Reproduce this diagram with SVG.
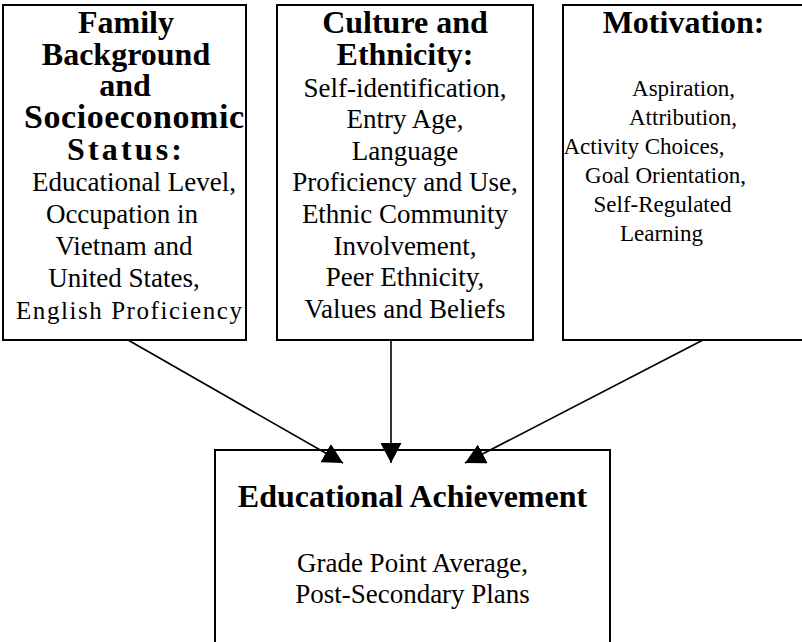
<svg xmlns="http://www.w3.org/2000/svg" width="802" height="642" viewBox="0 0 802 642">
  <style>
    .box { fill: #ffffff; stroke: #000000; stroke-width: 2; }
    .head { font-family: "Liberation Serif", "Times New Roman", serif; font-weight: bold; font-size: 32px; fill: #000000; text-anchor: middle; }
    .body { font-family: "Liberation Serif", "Times New Roman", serif; font-size: 27px; fill: #000000; text-anchor: middle; }
    .small { font-size: 23px; }
    .link { stroke: #000000; stroke-width: 1.6; fill: none; marker-end: url(#arrow); }
  </style>
  <defs>
    <marker id="arrow" markerUnits="userSpaceOnUse" markerWidth="20" markerHeight="21" refX="20" refY="10.5" orient="auto">
      <path d="M0,0 L20,10.5 L0,21 Z" fill="#000000"/>
    </marker>
  </defs>
  <rect x="0" y="0" width="802" height="642" fill="#ffffff"/>

  <g id="family">
    <rect class="box" x="3" y="5" width="243" height="335"/>
    <text class="head" x="126" y="33">Family</text>
    <text class="head" x="126" y="65">Background</text>
    <text class="head" x="125" y="96">and</text>
    <text class="head" x="24" y="128" style="text-anchor:start;font-size:34px" textLength="220" lengthAdjust="spacing">Socioeconomic</text>
    <text class="head" x="67" y="160" style="text-anchor:start" textLength="115" lengthAdjust="spacing">Status:</text>
    <text class="body" x="134" y="191">Educational Level,</text>
    <text class="body" x="122" y="223">Occupation in</text>
    <text class="body" x="124" y="255">Vietnam and</text>
    <text class="body" x="124" y="287">United States,</text>
    <text class="body" x="16" y="319" style="text-anchor:start;font-size:25px" textLength="226" lengthAdjust="spacing">English Proficiency</text>
  </g>

  <g id="culture">
    <rect class="box" x="277" y="5" width="256" height="335"/>
    <text class="head" x="405" y="33">Culture and</text>
    <text class="head" x="405" y="65">Ethnicity:</text>
    <text class="body" x="405" y="97">Self-identification,</text>
    <text class="body" x="405" y="128">Entry Age,</text>
    <text class="body" x="405" y="160">Language</text>
    <text class="body" x="405" y="191">Proficiency and Use,</text>
    <text class="body" x="405" y="223">Ethnic Community</text>
    <text class="body" x="405" y="255">Involvement,</text>
    <text class="body" x="405" y="286">Peer Ethnicity,</text>
    <text class="body" x="405" y="318">Values and Beliefs</text>
  </g>

  <g id="motivation">
    <rect class="box" x="563" y="5" width="250" height="335"/>
    <text class="head" x="683.5" y="33">Motivation:</text>
    <text class="body small" x="683.5" y="96">Aspiration,</text>
    <text class="body small" x="683" y="125">Attribution,</text>
    <text class="body small" x="644" y="154">Activity Choices,</text>
    <text class="body small" x="665.5" y="183">Goal Orientation,</text>
    <text class="body small" x="662.5" y="212">Self-Regulated</text>
    <text class="body small" x="661.5" y="241">Learning</text>
  </g>

  <g id="achievement">
    <rect class="box" x="215" y="450" width="395" height="200"/>
    <text class="head" x="412.5" y="507">Educational Achievement</text>
    <text class="body" x="412.5" y="572">Grade Point Average,</text>
    <text class="body" x="412.5" y="603">Post-Secondary Plans</text>
  </g>

  <g id="connectors">
    <line class="link" x1="128" y1="340" x2="343" y2="463"/>
    <line class="link" x1="391" y1="340" x2="391" y2="463"/>
    <line class="link" x1="703" y1="340" x2="465" y2="463"/>
  </g>
</svg>
